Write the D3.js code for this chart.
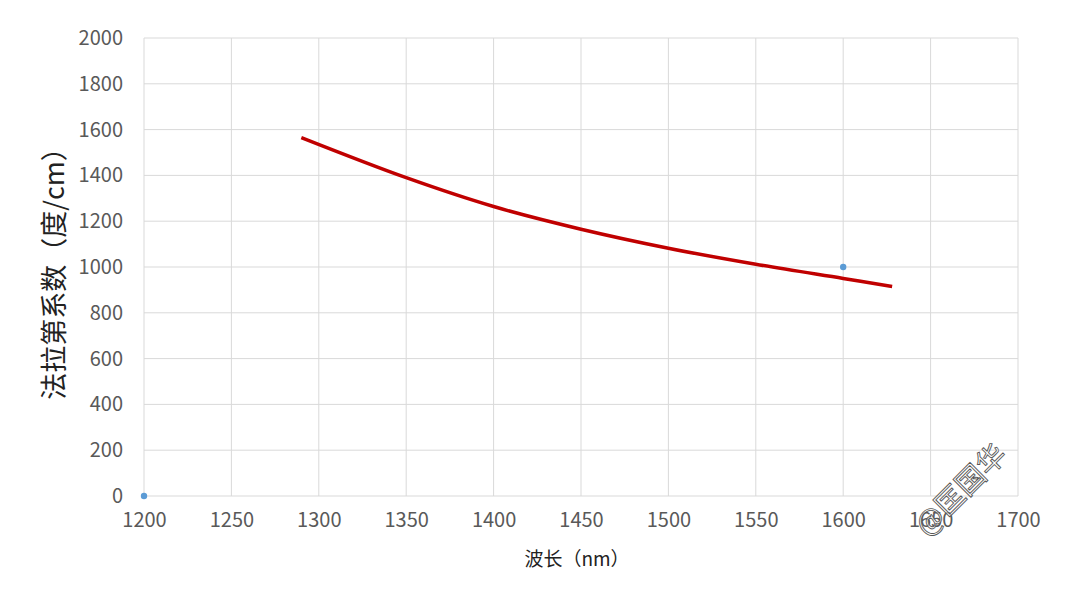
<!DOCTYPE html>
<html>
<head>
<meta charset="utf-8">
<script src="https://cdn.jsdelivr.net/npm/d3@7"></script>
<style>
  body { margin: 0; background: #fff; }
  text { font-family: "Noto Sans CJK SC", "Noto Sans", sans-serif; }
</style>
</head>
<body>
<div id="chart"></div>
<script>
const curveX = [1290, 1350, 1400, 1450, 1500, 1550, 1600, 1628];
const curveY = [1565, 1390, 1264, 1165, 1082, 1012, 950, 915];
// Einzelpunkte (blau)
const dotX = [1200, 1600];
const dotY = [0, 1000];
const xTicks = [1200, 1250, 1300, 1350, 1400, 1450, 1500, 1550, 1600, 1650, 1700];
const yTicks = [0, 200, 400, 600, 800, 1000, 1200, 1400, 1600, 1800, 2000];

const W = 1080, H = 608;
const m = { left: 144, right: 62, top: 38, bottom: 112 };

const svg = d3.select("#chart").append("svg")
  .attr("width", W).attr("height", H);

const x = d3.scaleLinear().domain([1200, 1700]).range([m.left, W - m.right]);
const y = d3.scaleLinear().domain([0, 2000]).range([H - m.bottom, m.top]);

// Gitterlinien
svg.append("g").selectAll("line.v").data(xTicks).join("line")
  .attr("x1", d => x(d)).attr("x2", d => x(d))
  .attr("y1", y(0)).attr("y2", y(2000))
  .attr("stroke", "#d9d9d9").attr("stroke-width", 1);
svg.append("g").selectAll("line.h").data(yTicks).join("line")
  .attr("x1", x(1200)).attr("x2", x(1700))
  .attr("y1", d => y(d)).attr("y2", d => y(d))
  .attr("stroke", "#d9d9d9").attr("stroke-width", 1);

// Achsen (nur Beschriftung)
const xAxis = svg.append("g")
  .attr("transform", `translate(0, ${y(0)})`)
  .call(d3.axisBottom(x).tickValues(xTicks).tickSize(0).tickPadding(17).tickFormat(d3.format("d")));
const yAxis = svg.append("g")
  .attr("transform", `translate(${x(1200)}, 0)`)
  .call(d3.axisLeft(y).tickValues(yTicks).tickSize(0).tickPadding(21).tickFormat(d3.format("d")));
[xAxis, yAxis].forEach(a => {
  a.select(".domain").remove();
  a.selectAll("text")
    .style("font-family", "\"Noto Sans CJK SC\", sans-serif")
    .style("font-size", "20px")
    .attr("fill", "#595959");
});

// Achsentitel
svg.append("text")
  .attr("x", 577).attr("y", 566)
  .attr("text-anchor", "middle")
  .style("font-size", "19px")
  .attr("fill", "#222")
  .text("波长（nm）");

svg.append("text")
  .attr("transform", `translate(64, ${(y(0) + y(2000)) / 2}) rotate(-90)`)
  .attr("text-anchor", "middle")
  .style("font-size", "27px")
  .attr("fill", "#222")
  .text("法拉第系数（度/cm）");

// Linie
const pts = curveX.map((d, i) => [d, curveY[i]]);
svg.append("path")
  .datum(pts)
  .attr("fill", "none")
  .attr("stroke", "#c00000")
  .attr("stroke-width", 3.5)
  .attr("d", d3.line().x(d => x(d[0])).y(d => y(d[1])).curve(d3.curveCatmullRom));

// Punkte
svg.append("g").selectAll("circle")
  .data(dotX.map((d, i) => [d, dotY[i]]))
  .join("circle")
  .attr("cx", d => x(d[0])).attr("cy", d => y(d[1]))
  .attr("r", 3.2)
  .attr("fill", "#5b9bd5");

// Wasserzeichen
svg.append("text")
  .attr("transform", "translate(968, 497) rotate(-45)")
  .attr("text-anchor", "middle")
  .style("font-size", "29px")
  .attr("fill", "#fff")
  .attr("fill-opacity", 0.6)
  .attr("stroke", "#555")
  .attr("stroke-width", 0.9)
  .text("@匡国华");
</script>
</body>
</html>
